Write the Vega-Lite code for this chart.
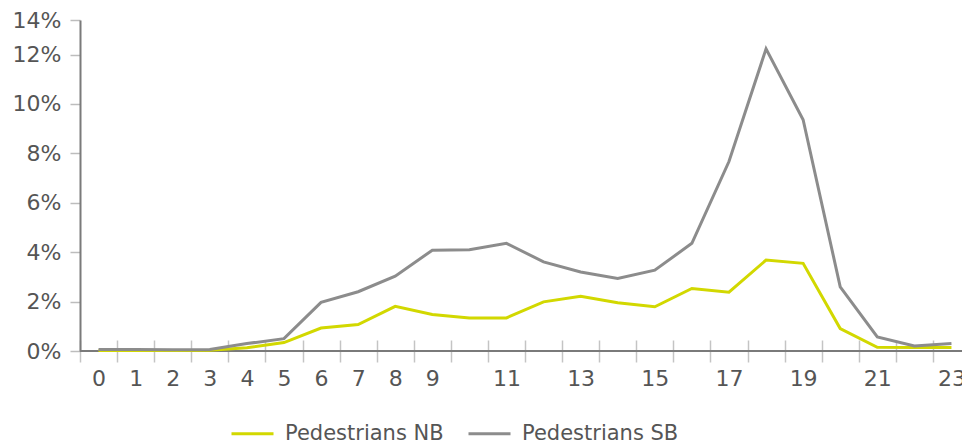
{
  "$schema": "https://vega.github.io/schema/vega-lite/v6.json",
  "width": 890,
  "height": 331,
  "autosize": {"type": "none"},
  "padding": {"left": 80, "top": 20, "right": 0, "bottom": 95},
  "background": "white",
  "config": {
    "view": {"stroke": null},
    "font": "DejaVu Sans"
  },
  "data": {
    "values": [
      {"hour": 0, "series": "Pedestrians NB", "value": 0.0002},
      {"hour": 1, "series": "Pedestrians NB", "value": 0.0002},
      {"hour": 2, "series": "Pedestrians NB", "value": 0.0002},
      {"hour": 3, "series": "Pedestrians NB", "value": 0.0003},
      {"hour": 4, "series": "Pedestrians NB", "value": 0.0013},
      {"hour": 5, "series": "Pedestrians NB", "value": 0.0034},
      {"hour": 6, "series": "Pedestrians NB", "value": 0.0093},
      {"hour": 7, "series": "Pedestrians NB", "value": 0.0107},
      {"hour": 8, "series": "Pedestrians NB", "value": 0.0181},
      {"hour": 9, "series": "Pedestrians NB", "value": 0.0148},
      {"hour": 10, "series": "Pedestrians NB", "value": 0.0134},
      {"hour": 11, "series": "Pedestrians NB", "value": 0.0134},
      {"hour": 12, "series": "Pedestrians NB", "value": 0.0199},
      {"hour": 13, "series": "Pedestrians NB", "value": 0.0222},
      {"hour": 14, "series": "Pedestrians NB", "value": 0.0195},
      {"hour": 15, "series": "Pedestrians NB", "value": 0.0179},
      {"hour": 16, "series": "Pedestrians NB", "value": 0.0253},
      {"hour": 17, "series": "Pedestrians NB", "value": 0.0238},
      {"hour": 18, "series": "Pedestrians NB", "value": 0.0368},
      {"hour": 19, "series": "Pedestrians NB", "value": 0.0355},
      {"hour": 20, "series": "Pedestrians NB", "value": 0.0091},
      {"hour": 21, "series": "Pedestrians NB", "value": 0.0015},
      {"hour": 22, "series": "Pedestrians NB", "value": 0.0014},
      {"hour": 23, "series": "Pedestrians NB", "value": 0.0014},
      {"hour": 0, "series": "Pedestrians SB", "value": 0.0006},
      {"hour": 1, "series": "Pedestrians SB", "value": 0.0006},
      {"hour": 2, "series": "Pedestrians SB", "value": 0.0005},
      {"hour": 3, "series": "Pedestrians SB", "value": 0.0006},
      {"hour": 4, "series": "Pedestrians SB", "value": 0.003},
      {"hour": 5, "series": "Pedestrians SB", "value": 0.005},
      {"hour": 6, "series": "Pedestrians SB", "value": 0.0197},
      {"hour": 7, "series": "Pedestrians SB", "value": 0.024},
      {"hour": 8, "series": "Pedestrians SB", "value": 0.0303},
      {"hour": 9, "series": "Pedestrians SB", "value": 0.0408},
      {"hour": 10, "series": "Pedestrians SB", "value": 0.041},
      {"hour": 11, "series": "Pedestrians SB", "value": 0.0436},
      {"hour": 12, "series": "Pedestrians SB", "value": 0.0361},
      {"hour": 13, "series": "Pedestrians SB", "value": 0.032},
      {"hour": 14, "series": "Pedestrians SB", "value": 0.0294},
      {"hour": 15, "series": "Pedestrians SB", "value": 0.0327},
      {"hour": 16, "series": "Pedestrians SB", "value": 0.0436},
      {"hour": 17, "series": "Pedestrians SB", "value": 0.0767},
      {"hour": 18, "series": "Pedestrians SB", "value": 0.1223},
      {"hour": 19, "series": "Pedestrians SB", "value": 0.0936},
      {"hour": 20, "series": "Pedestrians SB", "value": 0.026},
      {"hour": 21, "series": "Pedestrians SB", "value": 0.0057},
      {"hour": 22, "series": "Pedestrians SB", "value": 0.002},
      {"hour": 23, "series": "Pedestrians SB", "value": 0.003}
    ]
  },
  "layer": [
    {
      "mark": {"type": "rule", "color": "#7a7a7a", "strokeWidth": 2},
      "encoding": {"y": {"datum": 0, "type": "quantitative"}}
    },
    {
      "mark": {"type": "line", "strokeWidth": 3, "strokeJoin": "miter"},
      "encoding": {
        "x": {
          "field": "hour",
          "type": "ordinal",
          "bandPosition": 0.5,
          "scale": {"type": "band", "paddingInner": 0, "paddingOuter": 0},
          "axis": {
            "title": null,
            "domain": false,
            "grid": false,
            "offset": -11,
            "tickBand": "extent",
            "tickSize": 22,
            "tickColor": "#c4c4c4",
            "tickWidth": 1.5,
            "labelAngle": 0,
            "labelFontSize": 22,
            "labelColor": "#555555",
            "labelPadding": 6,
            "labelOverlap": false,
            "labelExpr": "datum.value >= 10 && datum.value % 2 == 0 ? '' : datum.label"
          }
        },
        "y": {
          "field": "value",
          "type": "quantitative",
          "scale": {"domain": [0, 0.134], "nice": false},
          "axis": {
            "title": null,
            "values": [0, 0.02, 0.04, 0.06, 0.08, 0.1, 0.12, 0.134],
            "labelExpr": "datum.value > 0.13 ? '14%' : format(datum.value, '.0%')",
            "domainColor": "#7a7a7a",
            "domainWidth": 2,
            "gridColor": "#9a9a9a",
            "gridWidth": 1.5,
            "tickColor": "#bdbdbd",
            "tickWidth": 1.5,
            "tickSize": 10,
            "labelPadding": 9,
            "labelFontSize": 22,
            "labelColor": "#555555"
          }
        },
        "color": {
          "field": "series",
          "type": "nominal",
          "scale": {"domain": ["Pedestrians NB", "Pedestrians SB"], "range": ["#d2d800", "#8c8c8c"]},
          "legend": {
            "title": null,
            "orient": "none",
            "direction": "horizontal",
            "legendX": 150,
            "legendY": 391,
            "symbolType": "stroke",
            "symbolSize": 1764,
            "symbolStrokeWidth": 3,
            "labelFontSize": 21,
            "labelColor": "#555555",
            "labelOffset": 10,
            "columnPadding": 18
          }
        }
      }
    }
  ]
}
